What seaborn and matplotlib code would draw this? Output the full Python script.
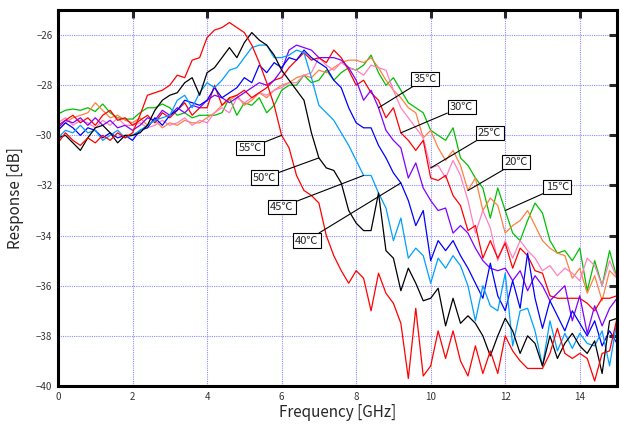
import numpy as np
import pandas as pd
import matplotlib
matplotlib.use('Agg')
import matplotlib.pyplot as plt
import seaborn as sns

# Frequency grid [GHz]
freq = np.round(np.arange(76) * 0.2, 1)

t15 = [-29.15, -29.0, -28.95, -29.0, -28.9, -29.05, -28.75, -29.1, -29.3, -29.35,
       -29.35, -29.1, -28.9, -28.9, -28.75, -28.9, -29.2, -29.1, -29.3, -29.2,
       -29.2, -29.2, -29.1, -28.5, -29.2, -28.7, -28.8, -28.5, -29.1, -28.8,
       -28.2, -28.0, -28.0, -27.6, -27.9, -27.8, -27.4, -27.8, -27.5, -27.3,
       -27.4, -27.2, -26.8, -27.5, -28.0, -27.7, -28.2, -28.7, -28.9, -29.1,
       -29.8, -30.0, -30.2, -29.7, -30.9, -31.2, -31.7, -32.1, -33.3, -32.1,
       -33.0, -33.9, -34.2, -33.4, -32.7, -33.1, -34.2, -34.7, -34.6, -35.0,
       -34.5, -36.2, -35.0, -36.0, -34.6, -35.7]
t20 = [-29.8, -29.5, -29.3, -29.2, -29.1, -28.7, -29.0, -29.3, -29.2, -29.4,
       -29.5, -29.3, -29.6, -29.4, -29.7, -29.5, -29.6, -29.4, -29.5, -29.5,
       -29.3, -29.1, -28.8, -28.6, -28.4, -28.8, -28.6, -28.3, -28.5, -28.2,
       -28.0, -27.9, -27.7, -27.6, -27.7, -27.4, -27.5, -27.3, -27.1, -27.0,
       -27.0, -27.1, -26.9, -27.3, -27.8, -28.2, -28.5, -28.9, -29.1, -30.1,
       -29.8, -30.5, -31.0, -30.6, -31.2, -32.2, -31.7, -33.0, -32.5, -32.8,
       -33.9, -33.6, -33.4, -33.0, -33.6, -34.2, -34.5, -34.7, -34.8, -35.7,
       -35.3, -36.3, -35.6, -36.6, -35.4, -35.7]
t25 = [-29.5, -29.3, -29.6, -29.4, -29.5, -29.7, -29.4, -29.6, -29.3, -29.6,
       -29.6, -29.5, -29.7, -29.6, -29.4, -29.6, -29.5, -29.3, -29.6, -29.4,
       -29.5, -29.1, -28.9, -29.1, -28.5, -28.7, -28.5, -28.3, -28.4, -28.2,
       -28.1, -27.9, -27.9, -27.6, -27.5, -26.9, -27.2, -27.4, -27.1, -27.3,
       -27.4, -27.6, -27.2, -27.3, -27.4, -28.2, -28.9, -29.3, -29.7, -30.1,
       -31.3, -31.2, -31.7, -31.0, -31.6, -32.6, -33.9, -33.0, -33.7, -35.0,
       -34.2, -34.9, -34.2, -34.6, -34.9, -35.4, -35.2, -35.6, -35.3, -35.5,
       -35.8, -34.9, -35.2, -36.0, -35.0, -35.7]
t30 = [-29.6, -29.4, -29.2, -29.5, -29.3, -29.6, -29.2, -29.0, -29.4, -29.3,
       -29.6, -29.4, -29.2, -29.5, -29.1, -29.3, -29.0, -28.7, -29.2, -28.9,
       -28.9, -28.0, -28.8, -28.5, -28.4, -28.2, -28.5, -28.3, -28.1, -27.8,
       -27.7, -27.3, -27.0, -26.7, -27.0, -26.9, -27.1, -26.6, -26.9, -27.4,
       -28.0, -27.8, -28.3, -28.6, -29.3, -28.9, -29.9, -30.2, -30.6, -30.2,
       -31.7, -31.8, -31.6, -32.4, -32.8, -33.8, -33.6, -34.9, -34.2, -34.9,
       -34.3, -35.3, -34.5, -34.8, -35.4, -35.5, -36.4, -36.5, -36.5, -36.5,
       -36.5, -36.7, -37.0, -36.5, -36.5, -36.4]
t35 = [-29.7, -29.4, -29.5, -29.3, -29.6, -29.3, -29.6, -29.4, -29.7, -29.6,
       -29.8, -29.6, -29.3, -29.4, -29.0, -29.2, -28.9, -29.1, -28.8, -28.9,
       -28.6, -28.4, -28.5, -28.7, -28.5, -28.3, -28.1, -27.9, -28.0, -27.8,
       -27.4, -26.6, -26.4, -26.5, -26.6, -26.9, -26.9, -26.9, -27.0, -27.3,
       -27.8, -28.6, -28.2, -28.9, -29.8, -30.2, -30.5, -31.7, -31.1, -32.1,
       -32.6, -33.0, -32.9, -33.9, -33.6, -33.9, -34.5, -35.0, -35.3, -35.4,
       -35.3, -35.8, -35.4, -36.2, -35.6, -36.0, -36.6, -36.3, -36.0, -37.4,
       -36.4, -37.9, -36.8, -37.6, -36.9, -36.5]
t40 = [-29.8, -29.5, -29.7, -30.0, -29.7, -29.8, -30.1, -29.9, -30.1, -30.0,
       -30.2, -29.8, -29.7, -29.3, -29.6, -29.2, -29.0, -28.6, -28.7, -28.8,
       -28.6, -28.1, -28.5, -28.3, -28.1, -27.7, -27.9, -27.2, -27.5, -27.1,
       -27.3, -26.9, -27.0, -26.6, -26.9, -27.1, -27.3, -27.8, -28.1, -28.9,
       -29.5, -29.7, -29.7, -30.4, -30.9, -31.5, -31.9, -32.6, -33.6, -33.0,
       -35.0, -34.2, -34.6, -34.2, -34.8, -35.3, -35.9, -36.5, -35.1, -36.4,
       -37.0, -35.8, -36.9, -34.7, -36.5, -37.7, -36.6, -37.2, -37.8, -37.0,
       -37.5, -38.0, -37.4, -38.4, -37.8, -38.3]
t45 = [-30.1, -29.8, -29.9, -29.6, -29.9, -29.8, -30.2, -30.0, -29.8, -30.1,
       -30.0, -29.8, -29.6, -29.4, -29.3, -29.2, -28.6, -28.4, -28.9, -28.3,
       -27.9, -28.1, -27.8, -27.4, -27.3, -26.9, -26.5, -26.4, -26.4, -26.9,
       -26.9, -26.8, -26.6, -26.7, -27.7, -28.8, -29.1, -29.4, -29.9, -30.4,
       -31.0, -31.6, -31.6, -32.3, -32.9, -34.2, -33.3, -34.9, -34.5, -34.8,
       -35.9, -34.9, -35.3, -34.8, -35.2, -36.0, -37.4, -36.0, -36.8, -37.0,
       -35.5, -38.4, -37.0, -36.9, -37.8, -39.2, -37.4, -38.6, -37.9, -38.5,
       -37.9, -38.3, -38.4, -37.8, -39.2, -37.4]
t50 = [-30.1, -30.0, -30.3, -30.6, -30.1, -29.7, -29.6, -29.9, -30.3, -30.0,
       -30.0, -29.9, -29.6, -29.0, -28.6, -28.4, -28.3, -27.9, -27.7, -28.4,
       -27.5, -27.3, -26.9, -26.5, -26.9, -26.3, -25.9, -26.2, -26.4, -26.8,
       -27.4, -27.8, -28.2, -28.6, -29.9, -30.9, -31.3, -31.4, -31.9, -33.0,
       -33.5, -33.8, -33.8, -32.3, -34.6, -34.9, -36.2, -35.3, -35.9, -36.6,
       -36.5, -36.1, -37.6, -36.5, -37.5, -37.2, -37.5, -38.0, -38.8, -38.0,
       -37.3, -37.8, -38.7, -38.0, -38.3, -39.2, -38.0, -38.9, -38.3, -37.9,
       -38.4, -38.7, -38.2, -39.5, -37.4, -37.3]
t55 = [-30.3, -29.9, -30.2, -30.4, -30.1, -30.3, -30.0, -30.2, -29.9, -30.1,
       -29.9, -29.2, -28.4, -28.3, -28.2, -28.0, -27.6, -27.7, -27.0, -26.9,
       -26.1, -25.8, -25.7, -25.5, -25.7, -25.9, -26.4, -27.1, -27.9, -28.8,
       -30.0, -30.5, -31.6, -32.2, -32.4, -32.7, -34.0, -34.8, -35.4, -35.9,
       -35.4, -35.7, -37.0, -35.5, -36.3, -36.7, -37.5, -39.7, -36.9, -39.6,
       -39.2, -37.8, -38.9, -37.8, -39.0, -39.6, -38.4, -39.5, -38.6, -39.5,
       -38.0, -38.6, -39.0, -39.3, -39.3, -39.3, -38.7, -37.7, -38.7, -38.9,
       -38.7, -38.9, -39.8, -38.7, -38.6, -37.3]

temps = ['15℃', '20℃', '25℃', '30℃', '35℃', '40℃', '45℃', '50℃', '55℃']
series = [t15, t20, t25, t30, t35, t40, t45, t50, t55]
colors = ['#00C000', '#FF8040', '#FF80C0', '#FF0000', '#8000FF',
          '#0000FF', '#00A0FF', '#000000', '#FF0000']
# frequency where each label's leader line touches its curve
label_freq = [12.0, 11.0, 10.0, 9.2, 8.6, 9.2, 8.2, 7.0, 6.0]

rows = []
for t, s in zip(temps, series):
    for f, v in zip(freq, s):
        rows.append({'freq': f, 'resp': v, 'temp': t})
df = pd.DataFrame(rows)

sns.set_style('white')
plt.rcParams['font.family'] = ['Noto Sans CJK JP', 'DejaVu Sans']

fig = plt.figure(figsize=(6.21, 4.26), dpi=100)
ax = fig.add_axes([0.0934, 0.0939, 0.9002, 0.8826])

sns.lineplot(data=df, x='freq', y='resp', hue='temp', hue_order=temps,
             palette=dict(zip(temps, colors)), estimator=None, sort=False,
             legend=False, linewidth=0.9, ax=ax)

ax.set_xlim(0, 15)
ax.set_ylim(-40, -25)
ax.set_xticks(np.arange(0, 15, 2))
ax.set_yticks(np.arange(-40, -25, 2))
ax.grid(True, color='#8C8CFF', linestyle=(0, (1, 1)), linewidth=0.8)
ax.set_axisbelow(True)
for sp in ax.spines.values():
    sp.set_linewidth(2.2)
    sp.set_color('black')
ax.tick_params(direction='in', length=6, width=2.2, top=True, right=True,
               labelsize=7, labelcolor='#333333', pad=4)
ax.set_xlabel('Frequency [GHz]', fontsize=11, labelpad=2)
ax.set_ylabel('Response [dB]', fontsize=11, labelpad=9)

# label boxes (text positions in data units)
box_pos = [(13.40, -32.07), (12.30, -31.07), (11.58, -29.90), (10.83, -28.87),
           (9.85, -27.75), (6.67, -34.20), (6.00, -32.86), (5.54, -31.69),
           (5.15, -30.50)]
for t, s, lf, bp in zip(temps, series, label_freq, box_pos):
    idx = int(round(lf / 0.2))
    ax.annotate(t, xy=(freq[idx], s[idx]), xytext=bp, fontsize=8,
                ha='center', va='center',
                bbox=dict(boxstyle='square,pad=0.2', fc='white', ec='black', lw=0.8),
                arrowprops=dict(arrowstyle='-', color='black', lw=0.8,
                                shrinkA=0, shrinkB=0))

fig.savefig('out.png', dpi=100)
